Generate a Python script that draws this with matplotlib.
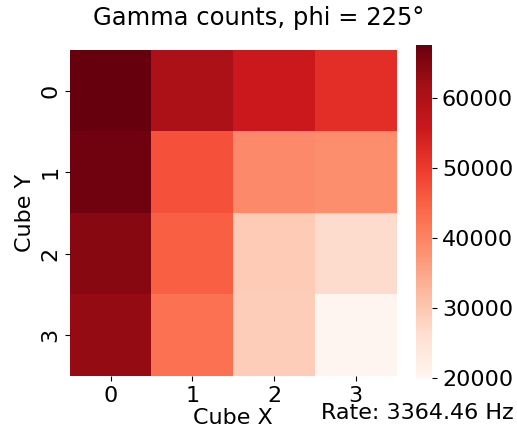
import numpy as np
import matplotlib
matplotlib.use("Agg")
import matplotlib.pyplot as plt
import seaborn as sns

# gamma counts per cube, rows = Cube Y, columns = Cube X
row0 = [67700, 60500, 55800, 52000]
row1 = [66800, 47200, 39100, 38800]
row2 = [64400, 45300, 29500, 26700]
row3 = [63400, 42900, 29100, 20000]
cube_x = ["0", "1", "2", "3"]
cube_y = ["0", "1", "2", "3"]
phi = 225
rate = 3364.46

counts = np.array([row0, row1, row2, row3])

fig = plt.figure(figsize=(5.17, 4.33), dpi=100)
ax = fig.add_axes([0.135, 0.132, 0.632, 0.753])
cax = fig.add_axes([0.805, 0.127, 0.031, 0.77])
sns.heatmap(counts, cmap="Reds", ax=ax, cbar_ax=cax,
            xticklabels=cube_x, yticklabels=cube_y, square=False)

fig.suptitle("Gamma counts, phi = %d°" % phi, fontsize=17.5, x=0.5, y=0.985)
ax.set_xlabel("Cube X", fontsize=16, labelpad=2)
ax.set_ylabel("Cube Y", fontsize=16)
ax.tick_params(labelsize=16)
plt.setp(ax.get_yticklabels(), rotation=90, va="center")
cax.tick_params(labelsize=16)
fig.text(0.993, 0.032, "Rate: %.2f Hz" % rate, fontsize=16, ha="right")

fig.savefig("out.png", dpi=100)
